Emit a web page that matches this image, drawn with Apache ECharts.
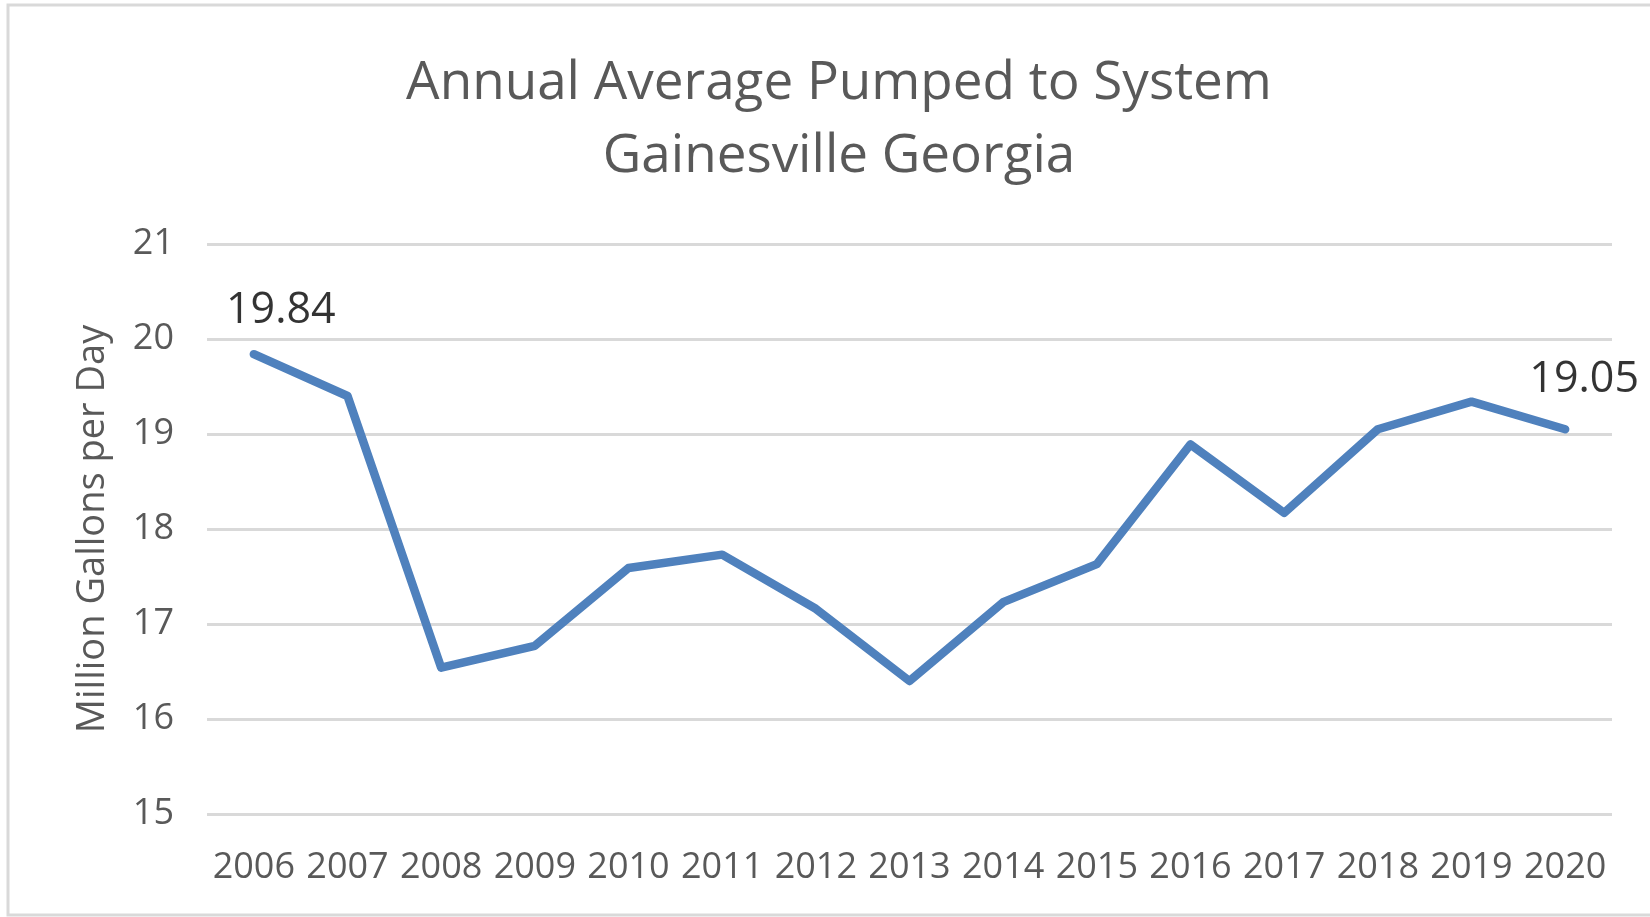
<!DOCTYPE html>
<html>
<head>
<meta charset="utf-8">
<script src="https://cdn.jsdelivr.net/npm/echarts@6/dist/echarts.min.js"></script>
<style>html,body{margin:0;padding:0;background:#fff;}#c{width:1650px;height:917px;}</style>
</head>
<body>
<div id="c"></div>
<script>
const titleLines = ['Annual Average Pumped to System', 'Gainesville Georgia'];
const yAxisName = 'Million Gallons per Day';
const years = ['2006','2007','2008','2009','2010','2011','2012','2013','2014','2015','2016','2017','2018','2019','2020'];
const pumped = [19.84, 19.40, 16.54, 16.77, 17.59, 17.73, 17.16, 16.40, 17.23, 17.63, 18.89, 18.17, 19.05, 19.34, 19.05];
const labeledIdx = [0, 14];

const chart = echarts.init(document.getElementById('c'));
const FONT = '"Open Sans", sans-serif';
chart.setOption({
  animation: false,
  backgroundColor: '#fff',
  graphic: [{
    type: 'rect', shape: {x: 8, y: 5, width: 1700, height: 910},
    style: {fill: 'none', stroke: '#d9d9d9', lineWidth: 3}, silent: true
  }],
  title: {
    text: titleLines.join('\n'),
    left: 834, top: 42, textAlign: 'center',
    textStyle: {fontFamily: FONT, fontSize: 53, fontWeight: 'normal', color: '#595959', lineHeight: 73}
  },
  grid: {left: 207, right: 38, top: 244, bottom: 103, containLabel: false},
  xAxis: {
    type: 'category', data: years, boundaryGap: true,
    axisLine: {show: false}, axisTick: {show: false},
    axisLabel: {fontFamily: FONT, fontSize: 36, color: '#595959', margin: 36, interval: 0}
  },
  yAxis: {
    type: 'value', min: 15, max: 21, interval: 1,
    name: yAxisName, nameLocation: 'middle', nameGap: 95,
    nameTextStyle: {fontFamily: FONT, fontSize: 38, color: '#595959'},
    axisLine: {show: false}, axisTick: {show: false},
    axisLabel: {fontFamily: FONT, fontSize: 36, color: '#595959', margin: 33},
    splitLine: {lineStyle: {color: '#d9d9d9', width: 3}}
  },
  series: [{
    type: 'line', data: pumped,
    symbol: 'none',
    lineStyle: {color: '#4f81bd', width: 8.5, cap: 'round', join: 'round'},
    itemStyle: {color: '#4f81bd'},
    z: 2
  }, {
    type: 'scatter',
    data: pumped.map((v, i) => labeledIdx.includes(i) ? {
      value: [i, v],
      label: {offset: i === 0 ? [27, -16] : [19, -23]}
    } : null).filter(d => d),
    symbolSize: 1,
    itemStyle: {color: 'rgba(0,0,0,0)'},
    label: {show: true, position: 'top', formatter: p => p.value[1].toFixed(2),
      fontFamily: FONT, fontSize: 43, color: '#000'},
    z: 3
  }]
});
</script>
</body>
</html>
